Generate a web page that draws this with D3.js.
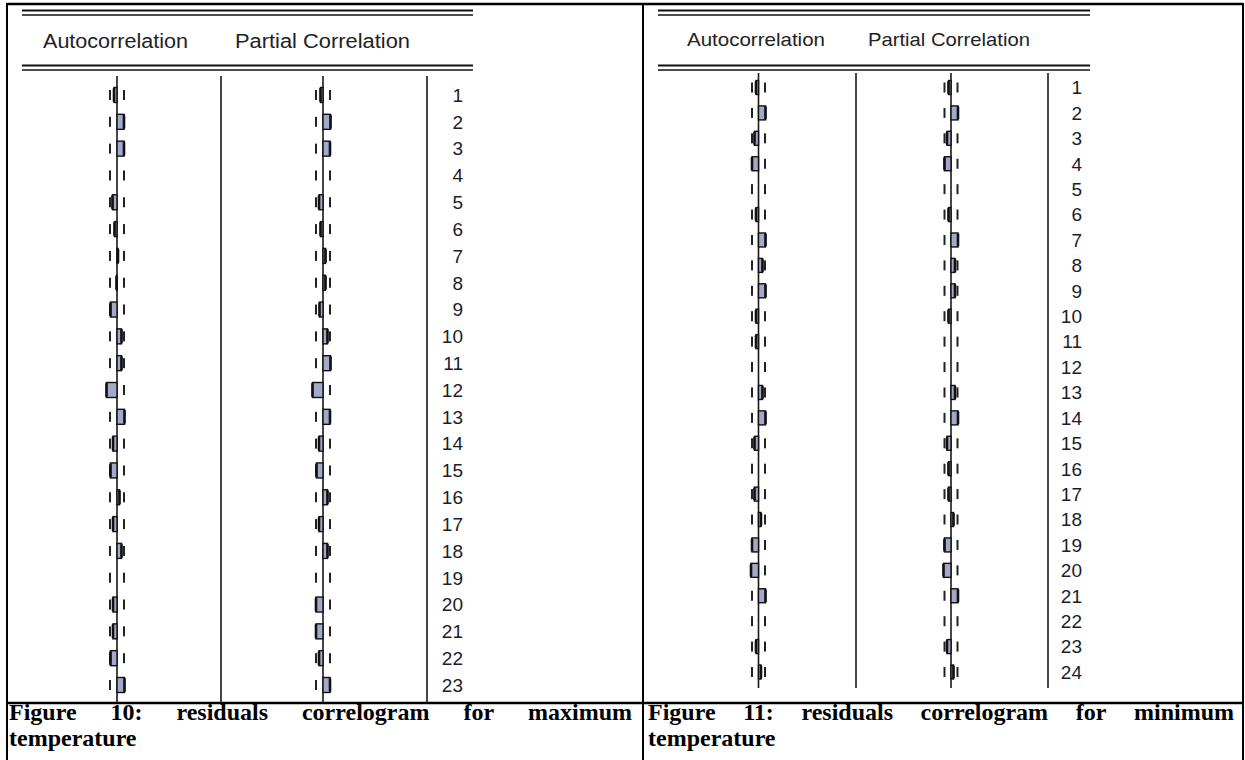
<!DOCTYPE html>
<html><head><meta charset="utf-8">
<script src="https://cdn.jsdelivr.net/npm/d3@7/dist/d3.min.js"></script>
<style>html,body{margin:0;padding:0;background:#fff;}svg{display:block;}</style>
</head><body>
<svg id="c" width="1245" height="760"></svg>
<script>
// ---------------- DATA ----------------
const lagsMax = d3.range(1, 24);          // 1..23
const acMax  = [-0.03, 0.07, 0.07, 0.0, -0.045, -0.025, 0.01, -0.005, -0.065, 0.045, 0.045, -0.105, 0.075, -0.04, -0.065, 0.025, -0.04, 0.045, 0.0, -0.04, -0.04, -0.065, 0.075];
const pacMax = [-0.025, 0.075, 0.07, 0.0, -0.04, -0.025, 0.025, 0.025, -0.035, 0.045, 0.075, -0.105, 0.07, -0.04, -0.065, 0.045, -0.04, 0.045, 0.0, -0.07, -0.07, -0.04, 0.07];
const boundMax = 0.07;

const lagsMin = d3.range(1, 25);          // 1..24
const acMin  = [-0.025, 0.07, -0.04, -0.065, 0.0, -0.025, 0.07, 0.04, 0.07, -0.025, -0.025, 0.0, 0.04, 0.07, -0.04, 0.0, -0.04, 0.025, -0.065, -0.075, 0.07, 0.0, -0.025, 0.025];
const pacMin = [-0.025, 0.07, -0.04, -0.065, 0.0, -0.025, 0.07, 0.04, 0.04, -0.025, 0.0, 0.0, 0.04, 0.07, -0.04, -0.025, -0.025, 0.025, -0.065, -0.075, 0.07, 0.0, -0.04, 0.025];
const boundMin = 0.065;

const headers = ["Autocorrelation", "Partial Correlation"];
const captionMax = ["Figure 10: residuals correlogram for maximum", "temperature"];
const captionMin = ["Figure 11: residuals correlogram for minimum", "temperature"];

// ---------------- LAYOUT ----------------
const svg = d3.select("#c");
const BAR_FILL = "#a2a9cb";

// table borders
const T = {left: 7, mid: 643, right: 1243, top: 4, capTop: 703, bottom: 760};
svg.append("line").attr("x1", T.left).attr("x2", T.right).attr("y1", T.top).attr("y2", T.top).attr("stroke", "#000").attr("stroke-width", 2.5);
svg.append("line").attr("x1", T.left).attr("x2", T.right).attr("y1", T.capTop).attr("y2", T.capTop).attr("stroke", "#000").attr("stroke-width", 2.5);
[T.left, T.mid, T.right].forEach(x => svg.append("line").attr("x1", x).attr("x2", x).attr("y1", T.top - 1).attr("y2", T.bottom).attr("stroke", "#000").attr("stroke-width", 2));

function panel(cfg) {
  const g = svg.append("g");
  // double rules
  [cfg.rule1, cfg.rule2].forEach(r => {
    g.append("line").attr("x1", cfg.x0).attr("x2", cfg.x1).attr("y1", r).attr("y2", r).attr("stroke", "#111").attr("stroke-width", 2);
    g.append("line").attr("x1", cfg.x0).attr("x2", cfg.x1).attr("y1", r + 4.5).attr("y2", r + 4.5).attr("stroke", "#111").attr("stroke-width", 1.6);
  });
  // headers
  g.append("text").attr("x", cfg.h1x).attr("y", cfg.hy).attr("textLength", cfg.h1w).attr("lengthAdjust", "spacingAndGlyphs")
    .attr("font-family", "Liberation Sans, Arial, sans-serif").attr("font-size", cfg.hfs).attr("fill", "#222").text(headers[0]);
  g.append("text").attr("x", cfg.h2x).attr("y", cfg.hy).attr("textLength", cfg.h2w).attr("lengthAdjust", "spacingAndGlyphs")
    .attr("font-family", "Liberation Sans, Arial, sans-serif").attr("font-size", cfg.hfs).attr("fill", "#222").text(headers[1]);

  const y = d3.scalePoint().domain(cfg.lags).range([cfg.yFirst, cfg.yLast]);
  // vertical rules: axes and dividers
  [cfg.ax1, cfg.div1, cfg.ax2, cfg.div2].forEach(x => {
    g.append("line").attr("x1", x).attr("x2", x).attr("y1", cfg.vTop).attr("y2", cfg.vBot).attr("stroke", "#1a1a1a").attr("stroke-width", 1.6);
  });

  [[cfg.ac, cfg.ax1], [cfg.pac, cfg.ax2]].forEach(([vals, ax]) => {
    const x = d3.scaleLinear().domain([-1, 1]).range([ax - 100, ax + 100]);
    const bh = cfg.barH;
    // confidence bound ticks
    cfg.lags.forEach(l => {
      [-cfg.bound, cfg.bound].forEach(b => {
        g.append("rect").attr("x", x(b) - 1).attr("y", y(l) - 5).attr("width", 2).attr("height", 10).attr("fill", "#222");
      });
    });
    // bars
    g.selectAll(null).data(vals.map((v, i) => ({v, lag: cfg.lags[i]})).filter(d => Math.abs(d.v) > 0.004)).enter().append("g").each(function(d) {
      const s = d3.select(this);
      const xa = x(0), xb = x(d.v);
      s.append("rect").attr("x", Math.min(xa, xb)).attr("y", y(d.lag) - bh / 2).attr("width", Math.abs(xb - xa)).attr("height", bh)
        .attr("fill", BAR_FILL).attr("stroke", "#111").attr("stroke-width", 1.4);
      s.append("line").attr("x1", xb).attr("x2", xb).attr("y1", y(d.lag) - bh / 2 + 1.5).attr("y2", y(d.lag) + bh / 2 - 1.5)
        .attr("stroke", "#111").attr("stroke-width", 2.6).attr("stroke-linecap", "round");
    });
  });
  // lag numbers
  g.selectAll(null).data(cfg.lags).enter().append("text")
    .attr("x", cfg.numX).attr("y", d => y(d)).attr("dy", "0.36em").attr("text-anchor", "end")
    .attr("font-family", "Liberation Sans, Arial, sans-serif").attr("font-size", 19).attr("fill", "#1c1c2a").text(d => d);
}

panel({lags: lagsMax, ac: acMax, pac: pacMax, bound: boundMax,
  x0: 22, x1: 473, rule1: 10.5, rule2: 65.5, hy: 48, hfs: 20,
  h1x: 43, h1w: 145, h2x: 235, h2w: 175,
  ax1: 117, div1: 221, ax2: 323, div2: 427, numX: 463,
  yFirst: 95, yLast: 685, vTop: 76, vBot: 702, barH: 15});

panel({lags: lagsMin, ac: acMin, pac: pacMin, bound: boundMin,
  x0: 658, x1: 1090, rule1: 10.5, rule2: 65.5, hy: 45.5, hfs: 19,
  h1x: 687, h1w: 138, h2x: 868, h2w: 162,
  ax1: 758.5, div1: 856, ax2: 951, div2: 1048, numX: 1082,
  yFirst: 87.5, yLast: 672, vTop: 73, vBot: 688, barH: 14});

// captions (justified first line)
function caption(lines, x0, x1, y0, lh) {
  const g = svg.append("g").attr("font-family", "Liberation Serif, Times New Roman, serif").attr("font-weight", "bold").attr("font-size", 24).attr("fill", "#000");
  lines.forEach((line, li) => {
    const yy = y0 + li * lh;
    if (li < lines.length - 1) {
      const words = line.split(" ");
      const nodes = words.map(w => g.append("text").attr("y", yy).text(w));
      const widths = nodes.map(n => n.node().getComputedTextLength());
      const gap = (x1 - x0 - d3.sum(widths)) / (words.length - 1);
      let cx = x0;
      nodes.forEach((n, i) => { n.attr("x", cx); cx += widths[i] + gap; });
    } else {
      g.append("text").attr("x", x0).attr("y", yy).text(line);
    }
  });
}
caption(captionMax, 9, 632, 720, 26);
caption(captionMin, 648, 1234, 720, 26);
</script>
</body></html>
